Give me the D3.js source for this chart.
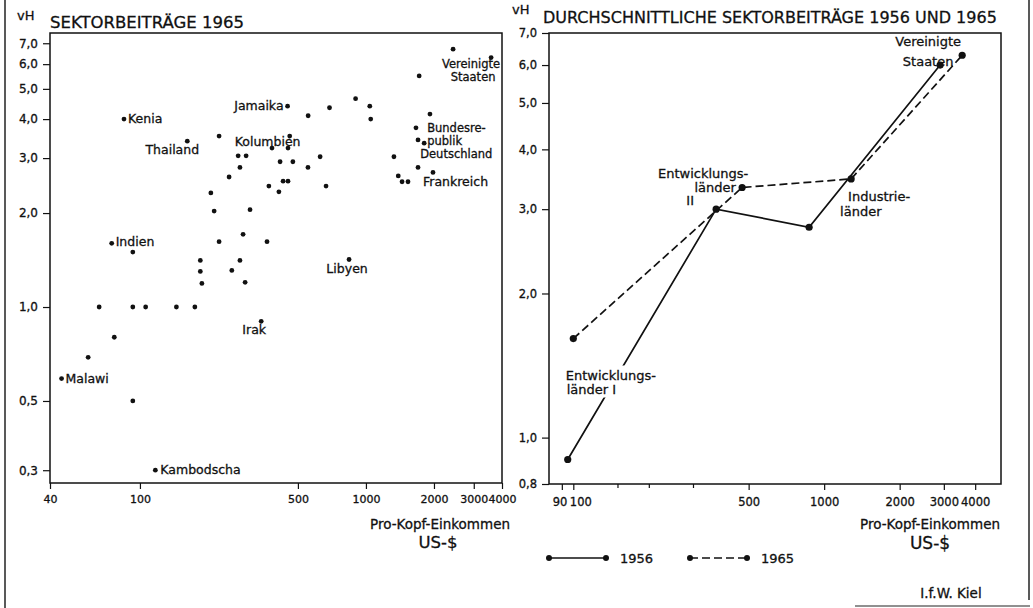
<!DOCTYPE html>
<html>
<head>
<meta charset="utf-8">
<script src="https://cdn.jsdelivr.net/npm/d3@7"></script>
<style>
body { margin: 0; background: #fff; }
svg text { font-family: "DejaVu Sans", sans-serif; fill: #111; stroke: #111; stroke-width: 0.3; }
</style>
</head>
<body>
<svg width="1033" height="608"></svg>
<script>
// --- data ---
// left panel: sector contribution 1965 vs. per capita income
const countryIncome = [3580, 2430, 1720, 555, 690, 900, 1040, 1050, 1920, 450,
    85, 1665, 1700, 1810, 1330, 1700, 1980, 1390, 1445, 1535,
    224, 162, 460, 272, 295, 277, 417, 475, 627, 554,
    248, 372, 430, 452, 412, 666, 206, 213, 307, 286,
    224, 365, 75, 93, 185, 185, 188, 277, 255, 292,
    842, 66, 93, 106, 145, 175, 344, 77, 59, 45,
    93, 117, 384, 452];
const countryShare = [6.3, 6.7, 5.5, 4.1, 4.35, 4.65, 4.4, 4.0, 4.15, 4.4,
    4.0, 3.75, 3.43, 3.35, 3.03, 2.8, 2.7, 2.63, 2.52, 2.52,
    3.53, 3.4, 3.53, 3.05, 3.05, 2.8, 2.92, 2.92, 3.03, 2.8,
    2.61, 2.44, 2.53, 2.53, 2.34, 2.44, 2.32, 2.03, 2.05, 1.71,
    1.62, 1.62, 1.6, 1.5, 1.41, 1.3, 1.19, 1.41, 1.31, 1.2,
    1.42, 1.0, 1.0, 1.0, 1.0, 1.0, 0.9, 0.8, 0.69, 0.59,
    0.5, 0.3, 3.23, 3.23];
const countryName = ["Vereinigte Staaten", "", "", "", "", "", "", "", "", "Jamaika",
    "Kenia", "", "", "Bundesrepublik", "", "", "", "", "", "Frankreich",
    "", "Thailand", "Kolumbien", "", "", "", "", "", "", "",
    "", "", "", "", "", "", "", "", "", "",
    "", "", "Indien", "", "", "", "", "", "", "",
    "Libyen", "", "", "", "", "", "Irak", "", "", "Malawi",
    "", "Kambodscha", "", ""];

// right panel: group averages 1956 and 1965
const groups = ["Entwicklungsländer I", "Entwicklungsländer II", "Industrieländer", "Vereinigte Staaten"];
const income1956 = [95, 371, 871, 2900];
const share1956 = [0.9, 3.0, 2.75, 6.0];
const income1965 = [100, 471, 1281, 3550];
const share1965 = [1.61, 3.33, 3.47, 6.29];

const leftXTicks = [40, 100, 500, 1000, 2000, 3000, 4000];
const leftYTicks = [0.3, 0.5, 1.0, 2.0, 3.0, 4.0, 5.0, 6.0, 7.0];
const rightXTicks = [90, 100, 500, 1000, 2000, 3000, 4000];
const rightXMinor = [150, 200, 300];
const rightYTicks = [0.8, 1.0, 2.0, 3.0, 4.0, 5.0, 6.0, 7.0];
const years = ["1956", "1965"];

const svg = d3.select("svg");
const comma = d => d3.format(".1f")(d).replace(".", ",");

// scales
const lx = d3.scaleLog().domain([40, 4000]).range([50, 502]);
const ly = d3.scaleLog().domain([0.273, 7.55]).range([483, 33]);
const rx = d3.scaleLog().domain([80, 5070]).range([549, 1001]);
const ry = d3.scaleLog().domain([0.8, 7]).range([484, 33]);

// page border lines
svg.append("line").attr("x1", 5).attr("x2", 5).attr("y1", 0).attr("y2", 608)
    .attr("stroke", "#222").attr("stroke-width", 1.5);
svg.append("line").attr("x1", 1029).attr("x2", 1029).attr("y1", 0).attr("y2", 600)
    .attr("stroke", "#222").attr("stroke-width", 1.5);
svg.append("line").attr("x1", 855).attr("x2", 1030).attr("y1", 606).attr("y2", 606)
    .attr("stroke", "#222").attr("stroke-width", 1.2);

function styleAxis(g, size) {
    g.select(".domain").remove();
    g.selectAll("line").attr("stroke", "#111").attr("stroke-width", 1.2);
    g.selectAll("text").attr("font-size", size).attr("fill", "#111")
        .attr("font-family", "DejaVu Sans, sans-serif");
}

// ---------- left panel ----------
svg.append("rect").attr("x", 50).attr("y", 33).attr("width", 452).attr("height", 450)
    .attr("fill", "none").attr("stroke", "#111").attr("stroke-width", 1.5);

svg.append("g").attr("transform", "translate(0,483)")
    .call(d3.axisBottom(lx).tickValues(leftXTicks).tickFormat(d3.format("d")).tickSize(6).tickPadding(6))
    .call(g => styleAxis(g, 11));

svg.append("g").attr("transform", "translate(50,0)")
    .call(d3.axisLeft(ly).tickValues(leftYTicks).tickFormat(comma).tickSize(7).tickPadding(5))
    .call(g => styleAxis(g, 12));

svg.append("text").attr("x", 17).attr("y", 20).attr("font-size", 13).text("vH");
svg.append("text").attr("x", 50).attr("y", 28).attr("font-size", 16.5).text("SEKTORBEITRÄGE 1965");
svg.append("text").attr("x", 440).attr("y", 529).attr("font-size", 13.5)
    .attr("text-anchor", "middle").text("Pro-Kopf-Einkommen");
svg.append("text").attr("x", 438).attr("y", 548).attr("font-size", 16.5)
    .attr("text-anchor", "middle").text("US-$");

const countries = countryIncome.map((v, i) => ({ income: v, share: countryShare[i], name: countryName[i] }));

svg.append("g").selectAll("circle")
    .data(countries)
    .enter()
    .append("circle")
    .attr("cx", d => lx(d.income))
    .attr("cy", d => ly(d.share))
    .attr("r", 2.4)
    .attr("fill", "#111");

// label placement (lines: text, dx, dy, anchor, size)
const leftLabelLayout = {
    "Vereinigte Staaten": [["Vereinigte", -20, 10, "middle", 11.5], ["Staaten", -18, 23, "middle", 11.5]],
    "Jamaika": [["Jamaika", -4, 4, "end"]],
    "Kenia": [["Kenia", 4, 4, "start"]],
    "Thailand": [["Thailand", -15, 13, "middle"]],
    "Kolumbien": [["Kolumbien", -55, 10, "start"]],
    "Bundesrepublik": [["Bundesre-", 3, -11, "start", 11.5], ["publik", 3, 2, "start", 11.5], ["Deutschland", -4, 15, "start", 11.5]],
    "Frankreich": [["Frankreich", 15, 4, "start"]],
    "Indien": [["Indien", 4, 3, "start"]],
    "Libyen": [["Libyen", -2, 14, "middle"]],
    "Irak": [["Irak", -7, 13, "middle"]],
    "Malawi": [["Malawi", 4, 4, "start"]],
    "Kambodscha": [["Kambodscha", 5, 4, "start"]]
};

countries.filter(d => d.name).forEach(d => {
    (leftLabelLayout[d.name] || []).forEach(([t, dx, dy, anchor, size]) => {
        svg.append("text")
            .attr("x", lx(d.income) + dx)
            .attr("y", ly(d.share) + dy)
            .attr("text-anchor", anchor)
            .attr("font-size", size || 12.5)
            .text(t);
    });
});

// ---------- right panel ----------
svg.append("rect").attr("x", 549).attr("y", 33).attr("width", 452).attr("height", 451)
    .attr("fill", "none").attr("stroke", "#111").attr("stroke-width", 1.5);

const rAxis = svg.append("g").attr("transform", "translate(0,484)")
    .call(d3.axisBottom(rx).tickValues(rightXTicks).tickFormat(d3.format("d")).tickSize(6).tickPadding(8))
    .call(g => styleAxis(g, 11.5));
// "90" and "100" sit almost on top of each other
rAxis.selectAll(".tick").filter(d => d === 90).select("text").attr("text-anchor", "end").attr("dx", 5);
rAxis.selectAll(".tick").filter(d => d === 100).select("text").attr("text-anchor", "start").attr("dx", -4);

svg.append("g").attr("transform", "translate(0,484)")
    .call(d3.axisBottom(rx).tickValues(rightXMinor).tickFormat("").tickSize(4))
    .call(g => styleAxis(g, 11));

svg.append("g").attr("transform", "translate(549,0)")
    .call(d3.axisLeft(ry).tickValues(rightYTicks).tickFormat(comma).tickSize(7).tickPadding(5))
    .call(g => styleAxis(g, 11.5));

svg.append("text").attr("x", 512).attr("y", 14).attr("font-size", 13).text("vH");
svg.append("text").attr("x", 543).attr("y", 23).attr("font-size", 16).text("DURCHSCHNITTLICHE SEKTORBEITRÄGE 1956 UND 1965");
svg.append("text").attr("x", 930).attr("y", 529).attr("font-size", 13.5)
    .attr("text-anchor", "middle").text("Pro-Kopf-Einkommen");
svg.append("text").attr("x", 930).attr("y", 549).attr("font-size", 17)
    .attr("text-anchor", "middle").text("US-$");

const s1956 = income1956.map((v, i) => ({ income: v, share: share1956[i] }));
const s1965 = income1965.map((v, i) => ({ income: v, share: share1965[i] }));
const line = d3.line().x(d => rx(d.income)).y(d => ry(d.share));

svg.append("path").datum(s1956).attr("d", line)
    .attr("fill", "none").attr("stroke", "#111").attr("stroke-width", 1.7);
svg.append("path").datum(s1965).attr("d", line)
    .attr("fill", "none").attr("stroke", "#111").attr("stroke-width", 1.7)
    .attr("stroke-dasharray", "8,4");

// group labels, placed relative to the 1956 points
const groupLabelLayout = [
    [["Entwicklungs-", -2, -80, "start"], ["länder  I", -1, -66, "start"]],
    [["Entwicklungs-", -13, -31, "middle"], ["länder", -1, -17, "middle"], ["II", -26, -4, "middle"]],
    [["Industrie-", 39, -26, "start"], ["länder", 31, -11, "start"]],
    [["Vereinigte", -12, -19, "middle"], ["Staaten", -12, 1, "middle"]]
];

// white patch under "Entwicklungsländer I" breaks the solid line like in the print
svg.append("rect")
    .attr("x", rx(income1956[0]) - 4).attr("y", ry(share1956[0]) - 94)
    .attr("width", 96).attr("height", 32).attr("fill", "#fff");

groups.forEach((g, i) => {
    groupLabelLayout[i].forEach(([t, dx, dy, anchor]) => {
        svg.append("text")
            .attr("x", rx(income1956[i]) + dx)
            .attr("y", ry(share1956[i]) + dy)
            .attr("text-anchor", anchor)
            .attr("font-size", 13)
            .text(t);
    });
});

svg.append("g").selectAll("circle")
    .data(s1956.concat(s1965))
    .enter()
    .append("circle")
    .attr("cx", d => rx(d.income))
    .attr("cy", d => ry(d.share))
    .attr("r", 3.6)
    .attr("fill", "#111");

// legend
const legend = svg.append("g").attr("transform", "translate(549,558)");
years.forEach((y, i) => {
    const g = legend.append("g").attr("transform", `translate(${i * 141},0)`);
    g.append("line").attr("x1", 0).attr("x2", 57).attr("y1", 0).attr("y2", 0)
        .attr("stroke", "#111").attr("stroke-width", 1.7)
        .attr("stroke-dasharray", i === 0 ? null : "8,4");
    g.selectAll("circle").data([0, 57]).enter().append("circle")
        .attr("cx", d => d).attr("cy", 0).attr("r", 3).attr("fill", "#111");
    g.append("text").attr("x", 71).attr("y", 5).attr("font-size", 13).text(y);
});

svg.append("text").attr("x", 951).attr("y", 598).attr("font-size", 13.5)
    .attr("text-anchor", "middle").text("I.f.W.  Kiel");
</script>
</body>
</html>
